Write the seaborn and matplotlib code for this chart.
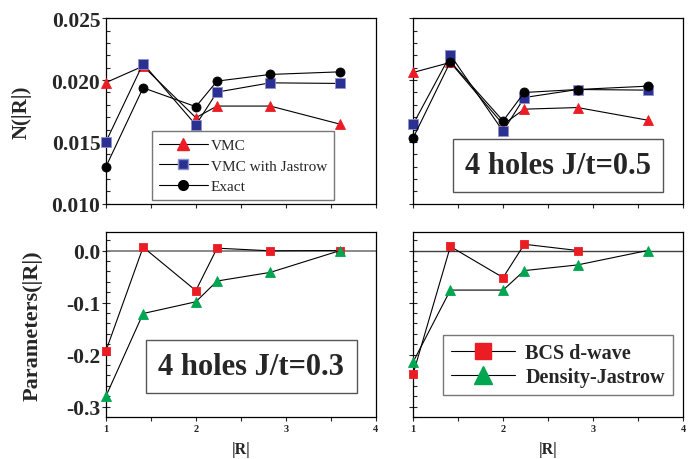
import numpy as np
import matplotlib
matplotlib.use("Agg")
import matplotlib.pyplot as plt
from matplotlib.ticker import MultipleLocator, FixedLocator
from matplotlib.lines import Line2D
import seaborn as sns

# |R| distances on the lattice
r = [1.0, 1.414, 2.0, 2.236, 2.828, 3.606]

# top panels: N(|R|)
vmc_03 = [0.0198, 0.02113, 0.01696, 0.0179, 0.0179, 0.01643]
jas_03 = [0.0150, 0.02134, 0.01637, 0.01903, 0.01978, 0.01973]
exact_03 = [0.01298, 0.01938, 0.01785, 0.01992, 0.02046, 0.02067]

vmc_05 = [0.02062, 0.02143, 0.01641, 0.01765, 0.01778, 0.01676]
jas_05 = [0.01643, 0.02203, 0.01586, 0.01859, 0.01924, 0.01919]
exact_05 = [0.01532, 0.02149, 0.0167, 0.0190, 0.01924, 0.01951]

# bottom panels: variational parameters
bcs_03 = [-0.193, 0.0064, -0.077, 0.0045, -0.0006, 0.0]
dj_03 = [-0.280, -0.121, -0.0985, -0.0586, -0.042, 0.0]

r_bcs_05 = [1.0, 1.414, 2.0, 2.236, 2.828]
bcs_05 = [-0.237, 0.0077, -0.052, 0.012, 0.0]
dj_05 = [-0.214, -0.076, -0.076, -0.0386, -0.0277, 0.0]

top_ticks = [0.010, 0.015, 0.020, 0.025]
top_labels = ["0.010", "0.015", "0.020", "0.025"]
bot_ticks = [-0.3, -0.2, -0.1, 0.0]
bot_labels = ["-0.3", "-0.2", "-0.1", "0.0"]

RED = "#ec1c24"
BLUE = "#2b3192"
GREEN = "#00a650"

sns.set_theme(style="ticks")
plt.rcParams["font.family"] = ["Liberation Serif", "DejaVu Serif"]
plt.rcParams["font.weight"] = "bold"
plt.rcParams["axes.linewidth"] = 1.0

fig = plt.figure(figsize=(6.92, 4.6), dpi=100)
W = 0.390
H = 0.403
ax_tl = fig.add_axes([0.153, 0.555, W, H])
ax_tr = fig.add_axes([0.597, 0.555, W, H])
ax_bl = fig.add_axes([0.153, 0.091, W, H])
ax_br = fig.add_axes([0.597, 0.091, W, H])


def draw(ax, x, y, marker, color, ms, edge=None):
    sns.lineplot(x=x, y=y, ax=ax, color="black", lw=0.8, marker=marker,
                 markersize=ms, markerfacecolor=color,
                 markeredgecolor=edge if edge else color, markeredgewidth=0.6,
                 sort=False, estimator=None, clip_on=False, zorder=3)


for ax, (v, j, e) in [(ax_tl, (vmc_03, jas_03, exact_03)),
                      (ax_tr, (vmc_05, jas_05, exact_05))]:
    draw(ax, r, v, "^", RED, 7.5)
    draw(ax, r, j, "s", BLUE, 6.5, edge="#8d92c8")
    draw(ax, r, e, "o", "black", 6.5)
    ax.set_ylim(0.010, 0.025)
    ax.set_yticks(top_ticks)
    ax.yaxis.set_minor_locator(MultipleLocator(0.001))

draw(ax_bl, r, bcs_03, "s", RED, 6)
draw(ax_bl, r, dj_03, "^", GREEN, 6.5)
draw(ax_br, r_bcs_05, bcs_05, "s", RED, 6)
draw(ax_br, r, dj_05, "^", GREEN, 6.5)
ax_bl.axhline(0, color="#808080", lw=1.3, zorder=1)
ax_br.axhline(0, color="#404040", lw=1.0, zorder=1)
for ax in (ax_bl, ax_br):
    ax.set_ylim(-0.32, 0.036)
    ax.set_yticks(bot_ticks)
    ax.yaxis.set_minor_locator(MultipleLocator(0.02))

for ax in (ax_tl, ax_tr, ax_bl, ax_br):
    ax.set_xlim(1, 4)
    ax.xaxis.set_major_locator(FixedLocator([1, 2, 3, 4]))
    ax.xaxis.set_minor_locator(FixedLocator([1.5, 2.5, 3.5]))
    ax.tick_params(axis="x", which="both", direction="out", length=3,
                   width=0.8, labelsize=7.5, pad=2)
    ax.tick_params(axis="y", which="major", direction="inout", length=6,
                   width=0.8, labelsize=15.5, pad=1)
    ax.tick_params(axis="y", which="minor", direction="in", length=3,
                   width=0.8)
    ax.set_xlabel("")
    ax.set_ylabel("")
    for s in ax.spines.values():
        s.set_color("black")
        s.set_linewidth(0.9)

ax_tl.set_yticklabels(top_labels)
ax_bl.set_yticklabels(bot_labels)
for ax in (ax_tl, ax_tr):
    ax.tick_params(axis="x", labelbottom=False)
for ax in (ax_tr, ax_br):
    ax.tick_params(axis="y", labelleft=False)

ax_tl.set_ylabel("N(|R|)", fontsize=15, fontweight="bold", labelpad=14)
ax_bl.set_ylabel("Parameters(|R|)", fontsize=16, fontweight="bold", labelpad=17)
ax_bl.set_xlabel("|R|", fontsize=11.5, fontweight="bold", labelpad=6)
ax_br.set_xlabel("|R|", fontsize=11.5, fontweight="bold", labelpad=6)

# legends
h_top = [
    Line2D([], [], color="black", lw=0.8, marker="^", ms=9, mfc=RED, mec=RED),
    Line2D([], [], color="black", lw=0.8, marker="s", ms=7, mfc=BLUE, mec="#8d92c8"),
    Line2D([], [], color="black", lw=0.8, marker="o", ms=7, mfc="black", mec="black"),
]
leg = ax_tl.legend(h_top, ["VMC", "VMC with Jastrow", "Exact"],
                   loc="lower left", bbox_to_anchor=(0.17, 0.02),
                   prop={"family": "Liberation Serif", "weight": "normal", "size": 11},
                   frameon=True, fancybox=False, edgecolor="#555555",
                   handlelength=3.2, labelspacing=0.45, borderpad=0.45,
                   handletextpad=0.2, borderaxespad=0)
leg.get_frame().set_linewidth(1.0)

h_bot = [
    Line2D([], [], color="black", lw=0.8, marker="s", ms=11, mfc=RED, mec=RED),
    Line2D([], [], color="black", lw=0.8, marker="^", ms=13, mfc=GREEN, mec=GREEN),
]
leg2 = ax_br.legend(h_bot, ["BCS d-wave", "Density-Jastrow"],
                    loc="lower left", bbox_to_anchor=(0.11, 0.12),
                    prop={"family": "Liberation Serif", "weight": "bold", "size": 14.5},
                    frameon=True, fancybox=False, edgecolor="#555555",
                    handlelength=3.2, labelspacing=0.2, borderpad=0.4,
                    handletextpad=0.5, borderaxespad=0)
leg2.get_frame().set_linewidth(1.0)

box = dict(boxstyle="square,pad=0.4", fc="white", ec="#555555", lw=1.0)
ax_tr.text(0.537, 0.207, "4 holes J/t=0.5", transform=ax_tr.transAxes,
           ha="center", va="center", fontsize=22, fontweight="bold", bbox=box)
ax_bl.text(0.539, 0.273, "4 holes J/t=0.3", transform=ax_bl.transAxes,
           ha="center", va="center", fontsize=22, fontweight="bold", bbox=box)

fig.savefig("out.png", dpi=100)
